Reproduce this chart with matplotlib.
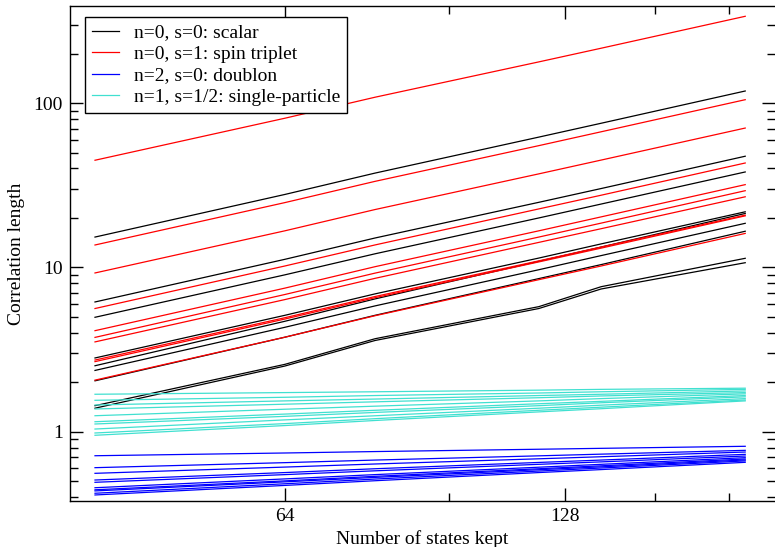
import numpy as np
import matplotlib.pyplot as plt
from matplotlib.ticker import FixedLocator, NullFormatter, LogLocator

plt.rcParams['font.family'] = ['Liberation Serif', 'DejaVu Serif']

# number of states kept (shared by every curve)
states = [40, 64, 80, 120, 140, 200]

# n=0, s=0: scalar
scalar = [
    [15.3, 27.8, 37.5, 62.1, 75.4, 118.5],
    [6.16, 11.2, 15.1, 24.9, 30.2, 47.5],
    [4.97, 9.01, 12.1, 20.0, 24.3, 38.1],
    [2.81, 5.11, 6.90, 11.4, 13.9, 21.8],
    [2.52, 4.70, 6.43, 10.9, 13.3, 21.3],
    [2.36, 4.32, 5.83, 9.68, 11.8, 18.55],
    [2.04, 3.76, 5.11, 8.55, 10.4, 16.6],
    [1.44, 2.57, 3.68, 5.77, 7.63, 11.36],
    [1.39, 2.51, 3.59, 5.62, 7.39, 10.68],
]

# n=0, s=1: spin triplet
triplet = [
    [44.9, 80.9, 108.6, 178.2, 215.8, 337.6],
    [13.69, 24.8, 33.4, 55.1, 66.9, 104.9],
    [9.25, 16.7, 22.5, 37.1, 45.0, 70.5],
    [5.62, 10.2, 13.7, 22.7, 27.5, 43.2],
    [4.12, 7.48, 10.1, 16.7, 20.3, 31.9],
    [3.75, 6.84, 9.23, 15.3, 18.6, 29.3],
    [3.52, 6.37, 8.58, 14.2, 17.2, 26.9],
    [2.73, 4.94, 6.65, 10.96, 13.3, 20.8],
    [2.67, 4.85, 6.54, 10.8, 13.1, 20.6],
    [2.06, 3.76, 5.08, 8.42, 10.2, 16.1],
]

# n=2, s=0: doublon
doublon = [
    [0.714, 0.742, 0.757, 0.782, 0.792, 0.815],
    [0.604, 0.648, 0.672, 0.713, 0.730, 0.770],
    [0.558, 0.609, 0.636, 0.684, 0.704, 0.752],
    [0.508, 0.564, 0.595, 0.650, 0.672, 0.728],
    [0.492, 0.548, 0.578, 0.633, 0.655, 0.711],
    [0.456, 0.516, 0.548, 0.608, 0.633, 0.695],
    [0.443, 0.502, 0.535, 0.595, 0.620, 0.682],
    [0.436, 0.495, 0.527, 0.587, 0.611, 0.673],
    [0.422, 0.482, 0.515, 0.576, 0.601, 0.664],
    [0.412, 0.471, 0.503, 0.564, 0.588, 0.651],
]

# n=1, s=1/2: single-particle
single = [
    [1.69, 1.73, 1.75, 1.79, 1.81, 1.84],
    [1.553, 1.62, 1.66, 1.72, 1.75, 1.81],
    [1.454, 1.54, 1.58, 1.66, 1.69, 1.77],
    [1.375, 1.47, 1.52, 1.61, 1.65, 1.73],
    [1.251, 1.37, 1.43, 1.54, 1.59, 1.70],
    [1.150, 1.28, 1.35, 1.48, 1.53, 1.66],
    [1.114, 1.24, 1.31, 1.44, 1.50, 1.63],
    [1.038, 1.18, 1.25, 1.39, 1.45, 1.59],
    [0.982, 1.12, 1.20, 1.35, 1.41, 1.56],
    [0.951, 1.09, 1.17, 1.32, 1.38, 1.54],
]

groups = [
    (scalar, 'black', 'n=0, s=0: scalar'),
    (triplet, '#ff0000', 'n=0, s=1: spin triplet'),
    (doublon, '#0000ff', 'n=2, s=0: doublon'),
    (single, '#40e0d0', 'n=1, s=1/2: single-particle'),
]

fig = plt.figure(figsize=(7.75, 5.47), dpi=100)
ax = fig.add_axes([70 / 775, 46 / 547, 705 / 775, 495 / 547])

for curves, color, label in groups:
    for i, ys in enumerate(curves):
        ax.plot(states, ys, color=color, lw=0.9,
                label=label if i == 0 else None)

ax.set_xscale('log', base=2)
ax.set_yscale('log')
ax.set_xlim(37.6, 215.3)
ax.set_ylim(0.3786, 390)

ax.xaxis.set_major_locator(FixedLocator([64, 128]))
ax.set_xticklabels(['64', '128'])
ax.xaxis.set_minor_locator(FixedLocator([96, 160, 192]))
ax.xaxis.set_minor_formatter(NullFormatter())
ax.yaxis.set_major_locator(FixedLocator([1, 10, 100]))
ax.set_yticklabels(['1', '10', '100'])
ax.yaxis.set_minor_locator(LogLocator(base=10, subs=np.arange(2, 10)))
ax.yaxis.set_minor_formatter(NullFormatter())

ax.tick_params(which='both', direction='in', top=True, right=True,
               labelsize=14, width=1.0)
ax.tick_params(which='major', length=9.5, pad=5)
ax.tick_params(which='minor', length=5.5)
ax.spines['right'].set_visible(False)
for side in ['left', 'bottom', 'top']:
    ax.spines[side].set_linewidth(1.0)

ax.set_xlabel('Number of states kept', fontsize=14, labelpad=4)
ax.set_ylabel('Correlation length', fontsize=14, labelpad=6)

leg = ax.legend(loc='upper left', bbox_to_anchor=(0.0213, 0.978),
                borderaxespad=0, fontsize=14, frameon=True, fancybox=False,
                edgecolor='black', framealpha=1, handlelength=1.4,
                handletextpad=0.75, labelspacing=0.2, borderpad=0.35)
leg.get_frame().set_linewidth(1.0)
for h in leg.get_lines():
    h.set_linewidth(0.9)

fig.savefig('out.png', dpi=100)
